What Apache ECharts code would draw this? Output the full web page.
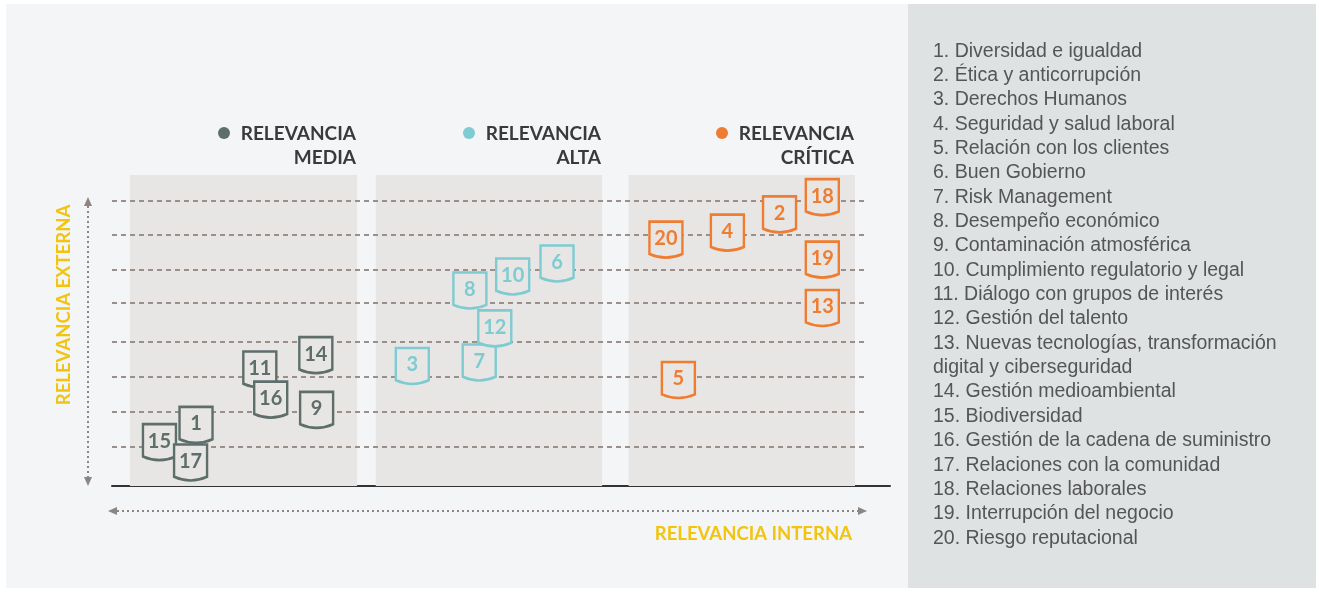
<!DOCTYPE html>
<html>
<head>
<meta charset="utf-8">
<script src="https://cdn.jsdelivr.net/npm/echarts@6/dist/echarts.min.js"></script>
<style>
  html, body { margin: 0; padding: 0; background: #fff; }
  #main { width: 1319px; height: 592px; }
</style>
</head>
<body>
<div id="main"></div>
<script>
// niveles de relevancia
var levelNames = ['MEDIA', 'ALTA', 'CRÍTICA'];
var levelColors = ['#5e6e6b', '#7ecbd1', '#ee7d31'];

// asuntos por nivel: id, relevancia interna (x), relevancia externa (y)
var mediaIds = [1, 9, 11, 14, 15, 16, 17];
var mediaX = [10.8, 26.3, 19.0, 26.2, 6.1, 20.4, 10.1];
var mediaY = [1.74, 2.17, 3.32, 3.73, 1.25, 2.46, 0.67];

var altaIds = [3, 6, 7, 8, 10, 12];
var altaX = [38.6, 57.2, 47.2, 46.0, 51.5, 49.2];
var altaY = [3.42, 6.34, 3.52, 5.57, 5.97, 4.49];

var criticaIds = [2, 4, 5, 13, 18, 19, 20];
var criticaX = [85.8, 79.1, 72.8, 91.3, 91.3, 91.3, 71.2];
var criticaY = [7.74, 7.22, 3.02, 5.07, 8.23, 6.45, 7.02];

// lineas de referencia (eje y) y bandas de cada nivel (eje x)
var refLines = [1.11, 2.11, 3.11, 4.10, 5.21, 6.15, 7.15, 8.12];
var bandStart = [2.3, 33.9, 66.4];
var bandEnd = [31.5, 63.0, 95.5];
var bandTop = 8.86;

var topics = [
	'1. Diversidad e igualdad',
	'2. Ética y anticorrupción',
	'3. Derechos Humanos',
	'4. Seguridad y salud laboral',
	'5. Relación con los clientes',
	'6. Buen Gobierno',
	'7. Risk Management',
	'8. Desempeño económico',
	'9. Contaminación atmosférica',
	'10. Cumplimiento regulatorio y legal',
	'11. Diálogo con grupos de interés',
	'12. Gestión del talento',
	'13. Nuevas tecnologías, transformación\ndigital y ciberseguridad',
	'14. Gestión medioambiental',
	'15. Biodiversidad',
	'16. Gestión de la cadena de suministro',
	'17. Relaciones con la comunidad',
	'18. Relaciones laborales',
	'19. Interrupción del negocio',
	'20. Riesgo reputacional'
];

var panelColor = '#e8e6e4';
var badge = 'path://M0,0 L33,0 L33,31 Q16.5,38 0,31 Z';

function toPoints(ids, xs, ys) {
	var out = [];
	for (var i = 0; i < ids.length; i++) {
		out.push({ value: [xs[i], ys[i]], name: String(ids[i]) });
	}
	return out;
}

function badgeSeries(name, ids, xs, ys, color) {
	return {
		name: name,
		type: 'scatter',
		z: 5,
		symbol: badge,
		symbolSize: [33, 36],
		itemStyle: { color: panelColor, borderColor: color, borderWidth: 2.5, opacity: 1 },
		label: {
			show: true,
			position: 'inside',
			offset: [0, -1],
			formatter: '{b}',
			color: color,
			fontFamily: 'Lato',
			fontWeight: 'bold',
			fontSize: 20
		},
		emphasis: { disabled: true },
		data: toPoints(ids, xs, ys)
	};
}

var bands = [];
for (var b = 0; b < bandStart.length; b++) {
	bands.push([{ xAxis: bandStart[b], yAxis: 0 }, { xAxis: bandEnd[b], yAxis: bandTop }]);
}
var lines = [];
for (var l = 0; l < refLines.length; l++) {
	lines.push([{ coord: [0, refLines[l]] }, { coord: [97, refLines[l]] }]);
}

// cabeceras de nivel
var headerRight = [356, 601, 854];
var headers = [];
for (var h = 0; h < levelNames.length; h++) {
	headers.push({
		type: 'circle', shape: { cx: headerRight[h] - 132, cy: 133, r: 6 },
		style: { fill: levelColors[h] }
	});
	headers.push({
		type: 'text', x: headerRight[h], y: 134,
		style: { text: 'RELEVANCIA', fill: '#3a3a3a', font: 'bold 19px Lato', align: 'right', verticalAlign: 'middle' }
	});
	headers.push({
		type: 'text', x: headerRight[h], y: 158,
		style: { text: levelNames[h], fill: '#3a3a3a', font: 'bold 19px Lato', align: 'right', verticalAlign: 'middle' }
	});
}

var arrowColor = '#8d8582';
var decor = [
	{ type: 'rect', z: -10, shape: { x: 6, y: 4, width: 902, height: 584 }, style: { fill: '#f3f5f6' } },
	{ type: 'rect', z: -10, shape: { x: 908, y: 4, width: 408, height: 584 }, style: { fill: '#dfe2e3' } },
	// flecha vertical
	{ type: 'line', shape: { x1: 88, y1: 206, x2: 88, y2: 477 }, style: { stroke: arrowColor, lineWidth: 2, lineDash: [2, 3] } },
	{ type: 'polygon', shape: { points: [[88, 197], [84, 206], [92, 206]] }, style: { fill: arrowColor } },
	{ type: 'polygon', shape: { points: [[88, 486], [84, 477], [92, 477]] }, style: { fill: arrowColor } },
	// flecha horizontal
	{ type: 'line', shape: { x1: 117, y1: 511, x2: 858, y2: 511 }, style: { stroke: arrowColor, lineWidth: 2, lineDash: [2, 3] } },
	{ type: 'polygon', shape: { points: [[108, 511], [117, 507], [117, 515]] }, style: { fill: arrowColor } },
	{ type: 'polygon', shape: { points: [[867, 511], [858, 507], [858, 515]] }, style: { fill: arrowColor } },
	{
		type: 'text', x: 64, y: 305, rotation: Math.PI / 2,
		style: { text: 'RELEVANCIA EXTERNA', fill: '#f2c40f', font: 'bold 18.5px Lato', align: 'center', verticalAlign: 'middle' }
	},
	{
		type: 'text', x: 852, y: 534,
		style: { text: 'RELEVANCIA INTERNA', fill: '#f2c40f', font: 'bold 18.5px Lato', align: 'right', verticalAlign: 'middle' }
	},
	{
		type: 'text', x: 933, y: 39,
		style: { text: topics.join('\n'), fill: '#555555', font: '19.5px "Liberation Sans"', lineHeight: 24.35, align: 'left', verticalAlign: 'top' }
	}
];

var myChart = echarts.init(document.getElementById('main'));
var option = {
	animation: false,
	backgroundColor: '#ffffff',
	grid: { left: 112, right: 429, top: 135, bottom: 106 },
	xAxis: {
		type: 'value', min: 0, max: 100,
		axisLine: { show: true, lineStyle: { color: '#333333', width: 2 } },
		axisTick: { show: false },
		axisLabel: { show: false },
		splitLine: { show: false }
	},
	yAxis: {
		type: 'value', min: 0, max: 10,
		axisLine: { show: false },
		axisTick: { show: false },
		axisLabel: { show: false },
		splitLine: { show: false }
	},
	graphic: decor.concat(headers),
	series: [
		{
			type: 'line',
			z: 1,
			data: [],
			markArea: {
				silent: true,
				itemStyle: { color: panelColor },
				data: bands
			},
			markLine: {
				silent: true,
				symbol: ['none', 'none'],
				label: { show: false },
				lineStyle: { color: '#9b8f8a', width: 2, type: [5, 4] },
				data: lines
			}
		},
		badgeSeries(levelNames[0], mediaIds, mediaX, mediaY, levelColors[0]),
		badgeSeries(levelNames[1], altaIds, altaX, altaY, levelColors[1]),
		badgeSeries(levelNames[2], criticaIds, criticaX, criticaY, levelColors[2])
	]
};
myChart.setOption(option);
</script>
</body>
</html>
